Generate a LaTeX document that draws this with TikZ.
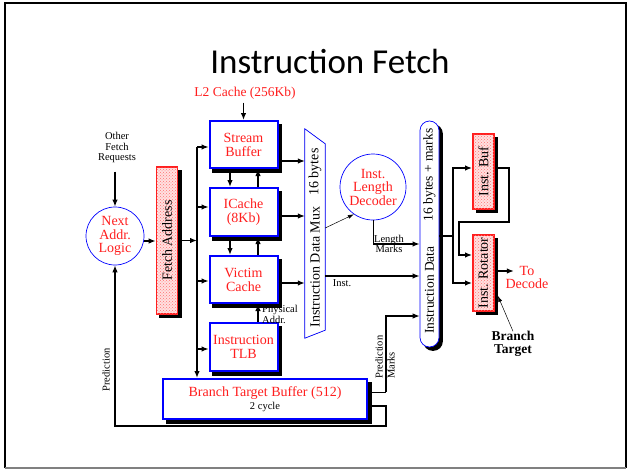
\documentclass[tikz,border=0pt]{standalone}
\usepackage{fontspec}
\setmainfont{Liberation Serif}
\newfontfamily\titlefont{Carlito}
\usetikzlibrary{arrows.meta,calc,patterns,backgrounds}
\definecolor{dred}{RGB}{255,30,30}
\definecolor{dblue}{RGB}{0,0,255}
\begin{document}
\begin{tikzpicture}[x=1pt,y=-1pt,
  font=\fontsize{14}{14}\selectfont,
  arr/.style={-{Latex[length=7pt,width=5.5pt]}},
  arrs/.style={-{Latex[length=6pt,width=4pt]}},
  thk/.style={line width=1.8pt},
  mid/.style={line width=1.1pt},
  thn/.style={line width=0.5pt},
  bbox/.style={draw=dblue,line width=2pt,fill=white,text=dred,align=center,inner sep=0,minimum width=68pt},
  pbox/.style={draw=dred,line width=1.8pt,fill=red!12,postaction={pattern=crosshatch dots,pattern color=red!55},inner sep=0,minimum width=21pt},
  logic/.style={circle,draw=dblue,line width=0.7pt,text=dred,align=center,inner sep=0,font=\fontsize{14}{13.5}\selectfont},
  small/.style={font=\fontsize{10.5}{10.5}\selectfont,align=center,inner sep=1pt},
  shadowfill/.style={fill=black},
]
\useasboundingbox (0,0) rectangle (629,471);
% slide frame
\draw[line width=2pt] (5,468) -- (5,3) -- (626,3) -- (626,468);
\draw[line width=1.5pt,gray] (5,468) -- (626,468);

\node[font=\titlefont\fontsize{35}{35}\selectfont,anchor=base] (title) at (330,73) {Instruction Fetch};

% main boxes
\node[bbox,minimum height=47pt] (SB) at (243.5,144.5) {Stream\\Buffer};
\node[bbox,minimum height=48pt] (IC) at (243.5,212) {ICache\\(8Kb)};
\node[bbox,minimum height=47pt] (VC) at (243.5,279.5) {Victim\\Cache};
\node[bbox,minimum height=48pt] (TLB) at (243.5,347) {Instruction\\TLB};
\node[bbox,minimum width=204pt,minimum height=40pt] (BTB) at (265,399) {Branch Target Buffer (512)\\[-1pt]{\color{black}\fontsize{10.5}{10.5}\selectfont 2 cycle}};

\node[text=dred,font=\fontsize{13.5}{13.5}\selectfont] (l2) at (245,93) {L2 Cache (256Kb)};
\node[small] (ofr) at (117,147.5) {Other\\Fetch\\Requests};
\node[logic,minimum size=58pt] (nal) at (115,236) {Next\\Addr.\\Logic};

\node[pbox,minimum height=147pt] (FA) at (167,240.5) {};
\node[rotate=90] (FAt) at (FA) {Fetch Address};

% mux
\node[inner sep=0,minimum width=20pt,minimum height=209pt] (mux) at (315,233.5) {};
\fill[black,shift={(3,3)}] (mux.north west) -- ([yshift=-15pt]mux.north east) -- ([yshift=8pt]mux.south east) -- (mux.south west) -- cycle;
\draw[dblue,line width=0.7pt,fill=white] (mux.north west) -- ([yshift=-15pt]mux.north east) -- ([yshift=8pt]mux.south east) -- (mux.south west) -- cycle;
\node[rotate=90] (muxt1) at (315,267) {Instruction Data Mux};
\node[rotate=90] (muxt2) at (315,172) {16 bytes};

\node[logic,minimum size=66pt] (ild) at (373,187) {Inst.\\Length\\Decoder};

% instruction data pill
\node[draw=dblue,line width=0.7pt,fill=white,rounded corners=9.5pt,minimum width=19pt,minimum height=226pt,inner sep=0] (idata) at (429.5,234) {};
\node[rotate=90,font=\fontsize{13.5}{13.5}\selectfont] (idt1) at (429.5,175) {16 bytes + marks};
\node[rotate=90,font=\fontsize{13.5}{13.5}\selectfont] (idt2) at (429.5,290) {Instruction Data};

\node[pbox,minimum height=75pt] (ibuf) at (483.5,171.5) {};
\node[rotate=90] (ibuft) at (ibuf) {Inst. Buf};
\node[pbox,minimum height=76pt] (irot) at (483.5,273) {};
\node[rotate=90] (irott) at (irot) {Inst. Rotator};

% shadows (behind the boxes, offset right and down)
\begin{scope}[on background layer]
  \foreach \b in {SB,IC,VC,TLB,BTB,FA,ibuf,irot}
    \fill[shadowfill] ($(\b.north west)+(3.5,3.5)$) rectangle ($(\b.south east)+(3.5,3.5)$);
  \fill[shadowfill,rounded corners=9.5pt] ($(idata.north west)+(3.5,3.5)$) rectangle ($(idata.south east)+(3.5,3.5)$);
\end{scope}

\node[text=dred,align=center,font=\fontsize{14}{13}\selectfont] (todec) at (527,277) {To\\Decode};
\node[font=\bfseries\fontsize{13.5}{13}\selectfont,align=center] (bt) at (513,343.5) {Branch\\Target};

% helper coordinates
\coordinate (bus) at (197,147);
\coordinate (rc) at (386,426);
\coordinate (rbx) at (453,0);
\path ([yshift=-2.5pt]SB.west) coordinate (b1) ([yshift=5pt]IC.west) coordinate (b2)
      ([yshift=-1.5pt]VC.west) coordinate (b3) ([yshift=-2pt]TLB.west) coordinate (b4)
      ([yshift=-16.5pt]SB.east) coordinate (m1) ([yshift=-4pt]IC.east) coordinate (m2)
      ([yshift=-3.5pt]VC.east) coordinate (m3) ([yshift=-42.5pt]mux.east) coordinate (m4)
      ([yshift=5.5pt]mux.east) coordinate (m5)
      ([yshift=-10pt]idata.west) coordinate (lm)
      ([yshift=7pt]BTB.east) coordinate (p1) ([yshift=-7pt]BTB.east) coordinate (p2)
      ([yshift=-82pt]idata.west) coordinate (p3)
      ([yshift=-2pt]idata.east) coordinate (d1)
      ([yshift=3.5pt]ibuf.west) coordinate (ib1) ([yshift=3.5pt]ibuf.east) coordinate (ib2)
      ([yshift=-10pt]irot.west) coordinate (ir1) ([yshift=18pt]irot.west) coordinate (ir2)
      ([yshift=2pt]irot.east) coordinate (ir3)
      ([yshift=-5pt]nal.east) coordinate (n1);

% connectors
\draw[arr,thk] (SB.north |- l2.south) -- (SB.north);
\draw[arr,thk] ([yshift=35pt]nal.north) -- (nal.north);
\draw[arr,mid] (n1) -- (n1 -| FA.west);
\draw[arr,thk] (FA.east) -- (FA.east -| bus);
\draw[arr,thk] (bus) -- (bus |- BTB.north);
\draw[arr,mid] (bus |- b1) -- (b1);
\draw[arr,mid] (bus |- b2) -- (b2);
\draw[arr,mid] (bus |- b3) -- (b3);
\draw[arr,mid] (bus |- b4) -- (b4);

\draw[arr,thk] ([xshift=-13.5pt]SB.south) -- ([xshift=-13.5pt]IC.north);
\draw[arr,thk] ([xshift=14.5pt]IC.north) -- ([xshift=14.5pt]SB.south);
\draw[arr,thk] ([xshift=-13.5pt]IC.south) -- ([xshift=-13.5pt]VC.north);
\draw[arr,thk] ([xshift=14.5pt]VC.north) -- ([xshift=14.5pt]IC.south);
\draw[arr,mid] ([xshift=14.5pt]TLB.north) -- ([xshift=14.5pt]VC.south);
\node[small,align=left,anchor=west] (phys) at (261,314.5) {Physical\\Addr.};

\draw[arr,mid] (m1) -- (m1 -| mux.west);
\draw[arr,mid] (m2) -- (m2 -| mux.west);
\draw[arr,thk] (m3) -- (m3 -| mux.west);

\draw[arrs,thn] (m5) -- (ild.235);
\draw[thn] (ild.south) -- (ild.south |- lm);
\draw[arr,thk] (ild.south |- lm) -- (lm);
\node[small,font=\fontsize{10.5}{10}\selectfont] (lml) at (389,244) {Length\\Marks};

\draw[arr,thk] (m4) -- (m4 -| idata.west);
\node[small] (instl) at (342,283) {Inst.};

\draw[thn] (p1) -- (p1 -| rc);
\draw[arr,mid] (p1 -| rc) |- (p3);
\node[small,rotate=90,anchor=west] (pml1) at (379,380) {Prediction};
\node[small,rotate=90,anchor=west] (pml2) at (391,380) {Marks};

\draw[arr,mid] (p2) -| (rc) -| (nal.south);
\node[small,rotate=90] (predl) at (106,370) {Prediction};

\draw[thk] (d1) -- (d1 -| rbx);
\draw[arr,thk] (d1 -| rbx) |- (ib1);
\draw[arr,thk] (d1 -| rbx) |- (ir1);
\draw[arr,thk] (ib2) -- ++(14,0) |- (459,222) |- (ir2);
\draw[arr,thk] (ir3) -- ++(19,0);
\draw[arrs,thn] ([yshift=-4pt]bt.north) -- ([xshift=3pt,yshift=16pt]irot.south east);
\end{tikzpicture}
\end{document}
